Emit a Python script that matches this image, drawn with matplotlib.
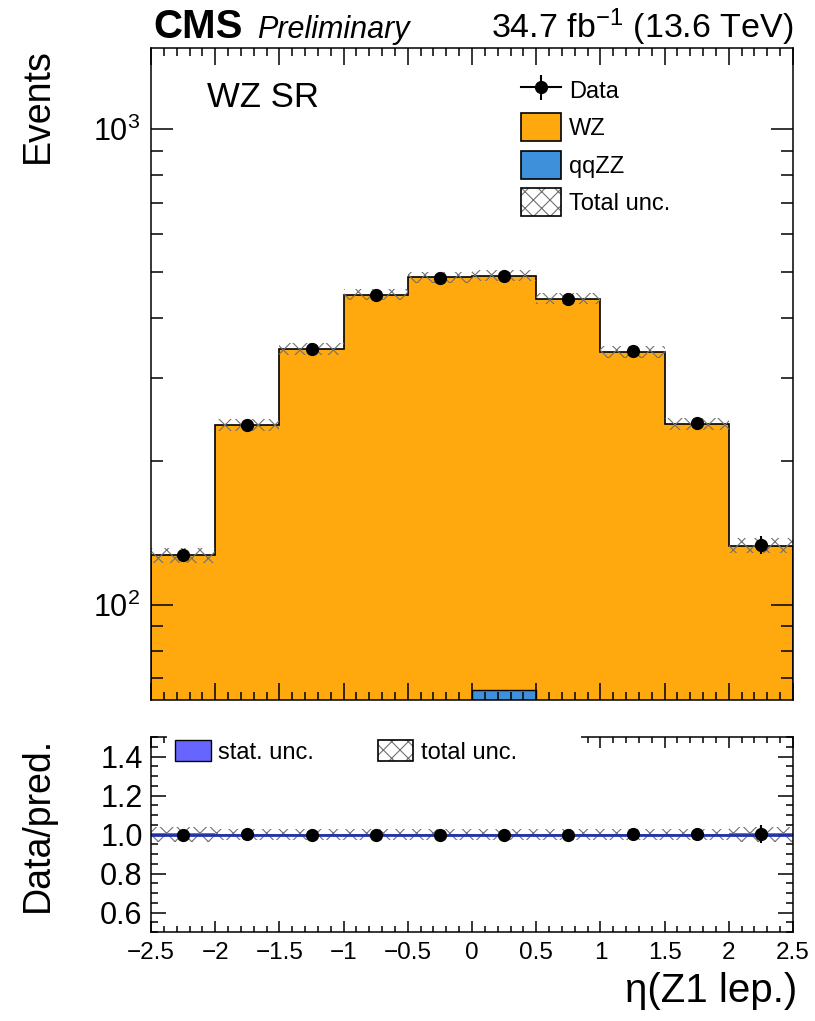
import numpy as np
import matplotlib
matplotlib.use("Agg")
import matplotlib.pyplot as plt
from matplotlib.lines import Line2D
from matplotlib.patches import Patch, Rectangle
from matplotlib.ticker import LogLocator, NullFormatter, MultipleLocator, FixedLocator, FuncFormatter

"""
WZ signal region, eta of the leading Z1 lepton, with a data/pred. ratio panel.
"""

# Binning.
edges = [-2.5, -2.0, -1.5, -1.0, -0.5, 0.0, 0.5, 1.0, 1.5, 2.0, 2.5]

# Predicted yields per bin.
wz = [127, 238.5, 344, 448, 488, 425, 440, 340, 240, 133]
qqzz = [0, 0, 0, 0, 0, 66, 0, 0, 0, 0]

# Total and stat. uncertainties on the prediction.
total_unc = [4.8, 7.0, 10.0, 12.0, 13.0, 13.0, 12.0, 10.0, 7.0, 4.8]
stat_unc = [0.8, 1.2, 1.6, 2.0, 2.2, 2.2, 2.0, 1.6, 1.2, 0.8]

# Observed data.
data = [127, 239, 344, 448, 487, 490, 440, 341, 241, 133.5]
data_err = [3.0, 4.0, 5.5, 6.5, 7.0, 7.0, 6.5, 5.5, 4.0, 6.0]

# Colors.
c_wz = "#ffa90e"
c_qqzz = "#3f90da"
c_stat = "#6666ff"
c_hatch = "#707070"

plt.rcParams["font.family"] = ["Liberation Sans", "DejaVu Sans"]
plt.rcParams["mathtext.fontset"] = "custom"
plt.rcParams["mathtext.rm"] = "Liberation Sans"
plt.rcParams["mathtext.it"] = "Liberation Sans:italic"
plt.rcParams["mathtext.bf"] = "Liberation Sans:bold"
plt.rcParams["mathtext.default"] = "regular"
plt.rcParams["hatch.linewidth"] = 0.8
plt.rcParams["axes.linewidth"] = 1.1

edges = np.array(edges)
centers = 0.5 * (edges[1:] + edges[:-1])
wz = np.array(wz, dtype=float)
qqzz = np.array(qqzz, dtype=float)
total = wz + qqzz
total_unc = np.array(total_unc)
stat_unc = np.array(stat_unc)
data = np.array(data)
data_err = np.array(data_err)

fig = plt.figure(figsize=(8.15, 10.21), dpi=100)
left, width = 151 / 815, (793 - 151) / 815
ax = fig.add_axes([left, 1 - 700 / 1021, width, (700 - 48) / 1021])
rax = fig.add_axes([left, 1 - 932 / 1021, width, (932 - 737) / 1021])

# Main panel: stack (ROOT style, total drawn first, then the lower component).
ax.stairs(total, edges, baseline=1, fill=True, facecolor=c_wz, edgecolor="k", linewidth=1.2)
ax.bar(centers, qqzz, width=0.5, color=c_qqzz, edgecolor="k", linewidth=1.0)
ax.stairs(total + total_unc, edges, baseline=total - total_unc, fill=True,
          facecolor="none", edgecolor=c_hatch, hatch="xx", linewidth=0)
ax.errorbar(centers, data, yerr=data_err, fmt="o", color="k", ms=8.5,
            elinewidth=1.5, capsize=0, zorder=5)

ax.set_yscale("log")
ax.set_xlim(-2.5, 2.5)
ax.set_ylim(63, 1480)
ax.yaxis.set_major_locator(LogLocator(base=10))
ax.yaxis.set_minor_locator(LogLocator(base=10, subs=np.arange(2, 10)))
ax.yaxis.set_minor_formatter(NullFormatter())
ax.xaxis.set_major_locator(MultipleLocator(0.5))
ax.xaxis.set_minor_locator(MultipleLocator(0.1))
ax.tick_params(which="both", direction="in", top=True, right=True, labelbottom=False,
               width=1.1, labelsize=22)
ax.tick_params(axis="x", which="major", length=12)
ax.tick_params(axis="x", which="minor", length=6)
ax.tick_params(axis="y", which="major", length=16, pad=8)
ax.tick_params(axis="y", which="minor", length=8.6)

ax.text(207 / 815, 1 - 107 / 1021, "WZ SR", transform=fig.transFigure, fontsize=25, va="baseline")

# Main legend.
h_data = (Line2D([], [], color="k", lw=1.5),
          Line2D([], [], color="k", marker="o", ms=8.5, ls="none"),
          Line2D([], [], color="k", marker="|", ms=18, mew=1.5, ls="none"))
h_wz = Patch(facecolor=c_wz, edgecolor="k", linewidth=1.2)
h_zz = Patch(facecolor=c_qqzz, edgecolor="k", linewidth=1.2)
h_unc = (Patch(facecolor="white", edgecolor=c_hatch, hatch="xx", linewidth=0),
         Patch(facecolor="none", edgecolor="k", linewidth=1.2))
fig.legend([h_data, h_wz, h_zz, h_unc], ["Data", "WZ", "qqZZ", "Total unc."],
           loc="upper left", bbox_to_anchor=(521 / 815, 1 - 76 / 1021),
           bbox_transform=fig.transFigure, frameon=False, fontsize=17,
           handlelength=1.69, handleheight=1.42, labelspacing=0.42,
           handletextpad=0.35, borderpad=0, borderaxespad=0)

# Ratio panel.
ratio = data / total
ratio_err = data_err / total
rel_stat = stat_unc / total
rel_tot = total_unc / total
rax.stairs(1 + rel_stat, edges, baseline=1 - rel_stat, fill=True, facecolor=c_stat, linewidth=0)
rax.stairs(1 + rel_tot, edges, baseline=1 - rel_tot, fill=True,
           facecolor="none", edgecolor=c_hatch, hatch="xx", linewidth=0)
rax.axhline(1.0, color="#2233aa", lw=2)
rax.errorbar(centers, ratio, yerr=ratio_err, fmt="o", color="k", ms=8.5,
             elinewidth=1.5, capsize=0, zorder=5)

rax.set_xlim(-2.5, 2.5)
rax.set_ylim(0.5, 1.5)
rax.yaxis.set_major_locator(FixedLocator([0.6, 0.8, 1.0, 1.2, 1.4]))
rax.yaxis.set_minor_locator(MultipleLocator(0.05))
rax.yaxis.set_major_formatter(FuncFormatter(lambda v, p: f"{v:.1f}"))
rax.xaxis.set_major_locator(MultipleLocator(0.5))
rax.xaxis.set_minor_locator(MultipleLocator(0.1))
rax.xaxis.set_major_formatter(FuncFormatter(lambda v, p: f"{v:g}".replace("-", "\u2212")))
rax.tick_params(which="both", direction="in", top=True, right=True, width=1.1)
rax.tick_params(axis="x", which="major", length=8, labelsize=17.5, pad=7)
rax.tick_params(axis="x", which="minor", length=4)
rax.tick_params(axis="y", which="major", length=10.8, labelsize=22, pad=6)
rax.tick_params(axis="y", which="minor", length=5)

# White legend box hides part of the ratio frame, like the original.
fig.add_artist(Rectangle((167 / 815, 1 - 772 / 1021), (581 - 167) / 815, 44 / 1021,
                         transform=fig.transFigure, facecolor="white",
                         edgecolor="none", zorder=4))
h_stat = Patch(facecolor=c_stat, edgecolor="k", linewidth=1.0)
fig.legend([h_stat, h_unc], ["stat. unc.", "total unc."], ncol=2,
           loc="upper left", bbox_to_anchor=(175 / 815, 1 - 740 / 1021),
           bbox_transform=fig.transFigure, frameon=False, fontsize=17,
           handlelength=1.52, handleheight=1.02, handletextpad=0.3,
           columnspacing=2.7, borderpad=0, borderaxespad=0)

# Header and axis titles.
fig.text(153 / 815, 1 - 38 / 1021, "CMS", fontsize=29, fontweight="bold", va="baseline")
fig.text(257 / 815, 1 - 38 / 1021, "Preliminary", fontsize=22, style="italic", va="baseline")
fig.text(793 / 815, 1 - 38 / 1021, r"34.7 fb$^{-1}$ (13.6 TeV)", fontsize=24.5,
         ha="right", va="baseline")
fig.text(56 / 815, 1 - 48 / 1021, "Events", rotation=90, ha="right", va="top", fontsize=27)
fig.text(56 / 815, 1 - 737 / 1021, "Data/pred.", rotation=90, ha="right", va="top", fontsize=27)
fig.text(797 / 815, 1 - 1002 / 1021, "\u03b7(Z1 lep.)", ha="right", va="baseline", fontsize=29)

fig.savefig("out.png", dpi=100)
